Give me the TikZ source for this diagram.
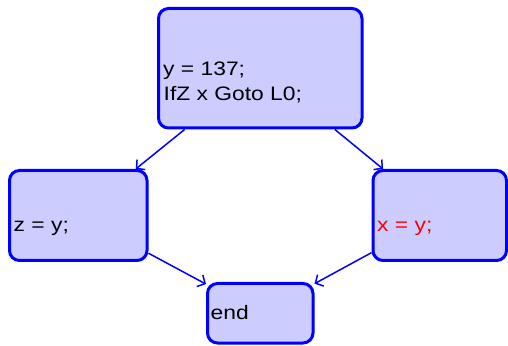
\documentclass[tikz,border=0pt]{standalone}
\usepackage{fontspec}
\setmainfont{Liberation Sans}
\usetikzlibrary{arrows.meta}
\definecolor{boxfill}{RGB}{204,204,255}
\begin{document}
\begin{tikzpicture}[x=1pt,y=1pt,
  block/.style={draw=blue, fill=boxfill, line width=3pt, rounded corners=10pt, rectangle, inner sep=0pt},
  code/.style={anchor=base west, inner sep=0pt, font=\fontsize{19.5}{24}\selectfont, xscale=1.17, transform shape},
  flow/.style={draw=blue, line width=1.5pt, -{Straight Barb[length=6pt,width=13pt,line width=1.5pt]}}]
\useasboundingbox (0,0) rectangle (508,345);
\node[block, minimum width=203.5pt, minimum height=119.5pt] (top) at (260.25,276.75) {};
\node[block, minimum width=137.5pt, minimum height=90pt] (left) at (78.25,129.5) {};
\node[block, minimum width=133.5pt, minimum height=90pt] (right) at (439.75,129.5) {};
\node[block, minimum width=105.5pt, minimum height=59.5pt] (end) at (260.25,31.75) {};
\node[code] (t1) at (163,269.3) {y = 137;};
\node[code] (t2) at (163.5,244.3) {IfZ x Goto L0;};
\node[code] (tl) at (13.5,113) {z = y;};
\node[code, text=red] (tr) at (377,113) {x = y;};
\node[code] (te) at (210.5,26) {end};
\draw[flow] (top) -- (left);
\draw[flow] (top) -- (right);
\draw[flow] (left) -- (end);
\draw[flow] (right) -- (end);
\end{tikzpicture}
\end{document}
